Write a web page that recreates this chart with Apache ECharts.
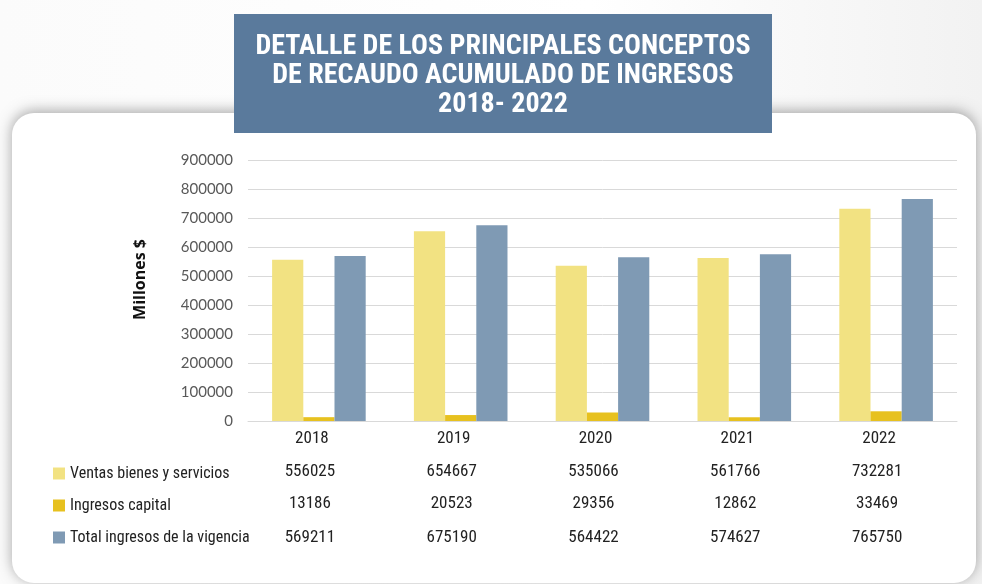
<!DOCTYPE html>
<html>
<head>
<meta charset="utf-8">
<script src="https://cdn.jsdelivr.net/npm/echarts@6/dist/echarts.min.js"></script>
<style>
  html, body { margin: 0; padding: 0; background: #f3f3f3; }
  #chart { width: 982px; height: 584px; }
</style>
</head>
<body>
<div id="chart"></div>
<script>
// Years shown on the category axis
const years = ['2018', '2019', '2020', '2021', '2022'];

// Series names (millones de pesos)
const seriesNames = ['Ventas bienes y servicios', 'Ingresos capital', 'Total ingresos de la vigencia'];

// Values per series
const ventas = [556025, 654667, 535066, 561766, 732281];
const capital = [13186, 20523, 29356, 12862, 33469];
const total = [569211, 675190, 564422, 574627, 765750];

// Value axis ticks
const yTicks = [0, 100000, 200000, 300000, 400000, 500000, 600000, 700000, 800000, 900000];

const titleLines = ['DETALLE DE LOS PRINCIPALES CONCEPTOS', 'DE RECAUDO ACUMULADO DE INGRESOS', '2018- 2022'];

const colors = ['#f2e282', '#e7c11f', '#7f9ab4'];
const seriesValues = [ventas, capital, total];

const narrow = '"Liberation Sans Narrow", "Roboto Condensed", "Arial Narrow", sans-serif';

const chart = echarts.init(document.getElementById('chart'), null, { renderer: 'canvas' });

const baseY = 421;         // pixel row of the zero line
const tableRows = [472, 504, 538];

// One hidden axis per data-table row, its labels print the row's values
const tableAxes = seriesValues.map((vals, i) => ({
  type: 'category',
  data: years,
  position: 'bottom',
  offset: tableRows[i] - baseY,
  axisLine: { show: false },
  axisTick: { show: false },
  splitLine: { show: false },
  axisLabel: {
    margin: 0,
    verticalAlign: 'middle',
    padding: [0, 18, 0, 0],
    fontFamily: narrow,
    fontSize: 17,
    color: '#222',
    formatter: (v, idx) => String(vals[idx])
  }
}));

const option = {
  animation: false,
  backgroundColor: 'transparent',
  graphic: [
    // soft page background
    {
      type: 'rect', z: -10, silent: true,
      shape: { x: 0, y: 0, width: 982, height: 584 },
      style: {
        fill: new echarts.graphic.LinearGradient(0, 0, 1, 0, [
          { offset: 0, color: '#fbfbfb' },
          { offset: 0.6, color: '#ffffff' },
          { offset: 1, color: '#f2f2f2' }
        ])
      }
    },
    // white card with shadow
    {
      type: 'rect', z: -5, silent: true,
      shape: { x: 12, y: 113, width: 964, height: 470, r: 22 },
      style: {
        fill: '#ffffff',
        shadowBlur: 14, shadowColor: 'rgba(0,0,0,0.35)', shadowOffsetX: 0, shadowOffsetY: -2
      }
    },
    // title banner
    {
      type: 'rect', z: 10, silent: true,
      shape: { x: 234, y: 14, width: 538, height: 119 },
      style: { fill: '#5a7a9c' }
    },
    ...titleLines.map((t, i) => ({
      type: 'text', z: 11, silent: true,
      x: 503, y: 47 + i * 29,
      style: {
        text: t, fill: '#ffffff',
        font: 'bold 28px ' + narrow,
        textAlign: 'center', textVerticalAlign: 'middle'
      }
    }))
  ],
  legend: {
    orient: 'vertical',
    left: 48,
    top: 460,
    itemWidth: 12,
    itemHeight: 12,
    itemGap: 15,
    icon: 'rect',
    data: seriesNames,
    textStyle: { fontFamily: narrow, fontSize: 16, lineHeight: 17, color: '#222' }
  },
  grid: { left: 248, right: 25, top: 160, bottom: 584 - baseY, containLabel: false },
  xAxis: [
    {
      type: 'category',
      data: years,
      axisLine: { show: true, lineStyle: { color: '#d9d9d9', width: 1 } },
      axisTick: { show: false },
      axisLabel: {
        margin: 18, verticalAlign: 'middle',
        padding: [0, 14, 0, 0],
        fontFamily: narrow, fontSize: 17, color: '#222'
      }
    },
    ...tableAxes
  ],
  yAxis: {
    type: 'value',
    min: yTicks[0],
    max: yTicks[yTicks.length - 1],
    interval: yTicks[1] - yTicks[0],
    name: 'Millones $',
    nameLocation: 'middle',
    nameRotate: 90,
    nameGap: 100,
    nameTextStyle: {
      fontFamily: '"Open Sans", sans-serif', fontWeight: 'bold', fontSize: 16, color: '#111',
      padding: [0, 0, 0, 22]
    },
    axisLine: { show: false },
    axisTick: { show: false },
    axisLabel: {
      margin: 15, fontFamily: 'Lato, sans-serif', fontSize: 15, color: '#595959',
      formatter: v => String(v)
    },
    splitLine: { lineStyle: { color: '#d9d9d9', width: 1 } }
  },
  series: seriesNames.map((name, i) => ({
    name,
    type: 'bar',
    xAxisIndex: 0,
    data: seriesValues[i],
    barGap: '0%',
    barCategoryGap: '34%',
    itemStyle: { color: colors[i] }
  }))
};

chart.setOption(option);
</script>
</body>
</html>
